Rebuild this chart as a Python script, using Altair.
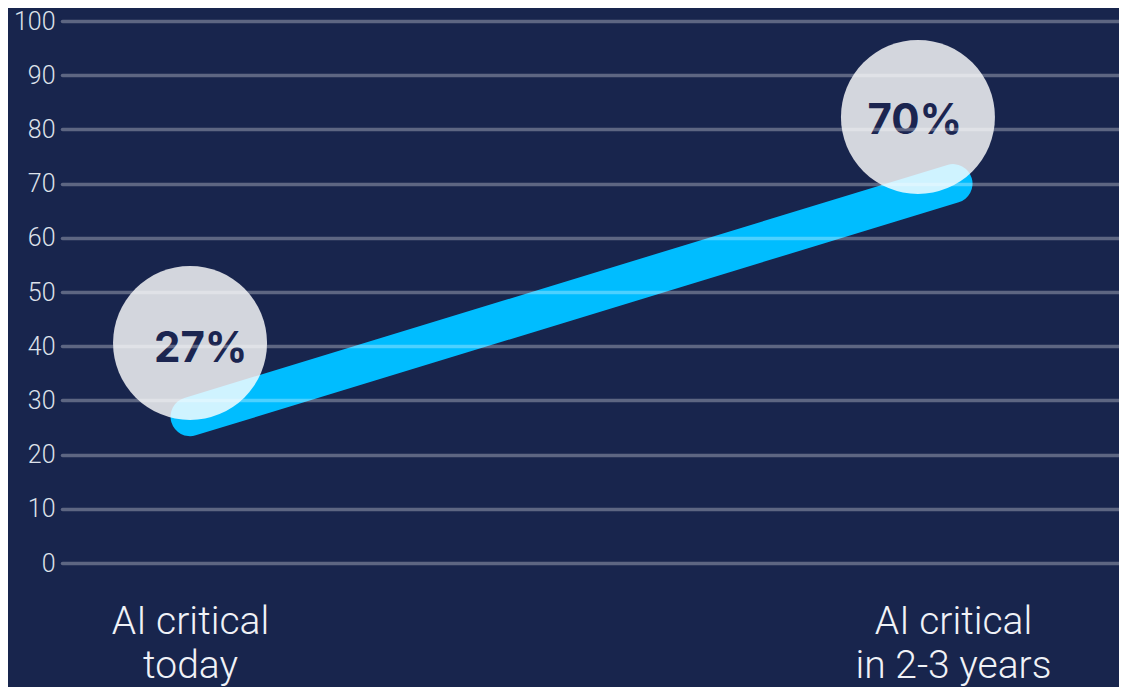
import json
import altair as alt
import pandas as pd

# ---- data ----
stage_lines = [["AI critical", "today"], ["AI critical", "in 2-3 years"]]
stage_index = [0, 1]
share_pct = [27, 70]
bubble_x = [0.0, 0.954]      # bubble centre, in category-index units
bubble_y = [40.6, 82.3]      # bubble centre, on the value axis
label_x = [0.014, 0.950]     # percentage label centre, in category-index units
label_y = [39.5, 81.5]
y_ticks = [0, 10, 20, 30, 40, 50, 60, 70, 80, 90, 100]

df_line = pd.DataFrame({"idx": stage_index, "share": share_pct})
df_bub = pd.DataFrame({"bx": bubble_x, "by": bubble_y})
df_lab = pd.DataFrame({
    "lx": label_x,
    "ly": label_y,
    "label": [f"{v}%" for v in share_pct],
})

BG = "#18254d"
x_scale = alt.Scale(domain=[-0.1678, 1.2175], nice=False, zero=False)
y_scale = alt.Scale(domain=[0, 100], nice=False)

x_axis = alt.Axis(
    values=stage_index,
    labelExpr=json.dumps(stage_lines) + "[datum.value]",
    title=None, grid=False, domain=False, ticks=False,
    labelFont="Roboto", labelFontWeight=300, labelFontSize=39,
    labelLineHeight=44, labelColor="#f0f2f7", labelPadding=39,
    labelAngle=0, labelAlign="center", labelBaseline="top",
    labelLimit=0, labelOverlap=False,
)
y_axis = alt.Axis(
    values=y_ticks, title=None, domain=False, ticks=False,
    grid=True, gridColor="#ffffff", gridOpacity=0.3, gridWidth=3.5,
    gridCap="round",
    labelFont="Roboto", labelFontWeight=300, labelFontSize=25,
    labelColor="#dde1ea", labelPadding=7, zindex=1, labelLimit=0,
)

line = alt.Chart(df_line).mark_line(
    color="#00bdff", strokeWidth=39, strokeCap="round"
).encode(
    x=alt.X("idx:Q", scale=x_scale, axis=x_axis),
    y=alt.Y("share:Q", scale=y_scale, axis=y_axis),
)

bubbles = alt.Chart(df_bub).mark_circle(
    size=154 * 154, color="#ffffff", opacity=0.81
).encode(
    x=alt.X("bx:Q", scale=x_scale),
    y=alt.Y("by:Q", scale=y_scale),
)

texts = alt.Chart(df_lab).mark_text(
    font="Inter", fontWeight=700, fontSize=42, color="#1b2550",
    baseline="middle", align="center",
).encode(
    x=alt.X("lx:Q", scale=x_scale),
    y=alt.Y("ly:Q", scale=y_scale),
    text="label:N",
)

chart = alt.layer(line, bubbles, texts).properties(
    width=1057,
    height=542,
    background=BG,
    autosize=alt.AutoSizeParams(type="none"),
    padding={"left": 54, "top": 13, "right": 0, "bottom": 124},
).configure_view(stroke=None)

chart.save("out.html", embed_options={"renderer": "svg", "actions": False})
